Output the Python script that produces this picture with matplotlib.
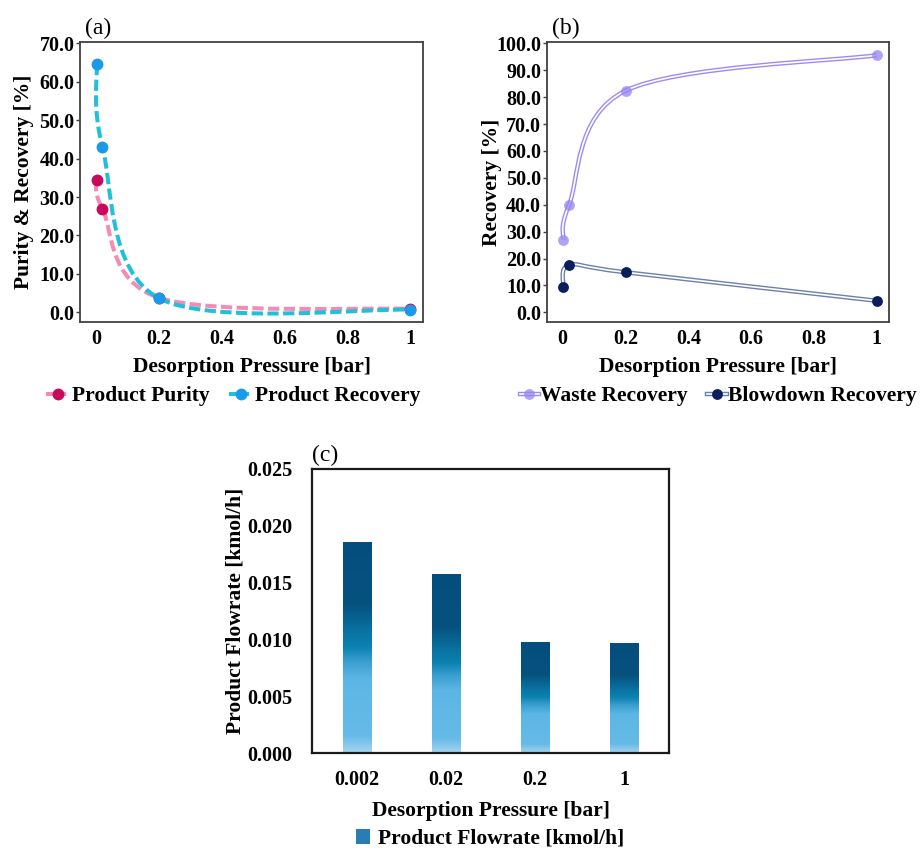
import numpy as np
import matplotlib
matplotlib.use("Agg")
import matplotlib.pyplot as plt
from matplotlib.path import Path
from matplotlib.patches import PathPatch, Rectangle
from matplotlib.lines import Line2D
from matplotlib.colors import LinearSegmentedColormap

plt.rcParams['font.family'] = ['Liberation Serif', 'DejaVu Serif']
plt.rcParams['font.weight'] = 'bold'
plt.rcParams['axes.labelweight'] = 'bold'

# desorption pressure [bar]
pressure = [0.002, 0.02, 0.2, 1]
pressure_labels = ['0.002', '0.02', '0.2', '1']

# (a) product purity / recovery [%]
purity = [34.4, 27.0, 3.8, 0.9]
recovery = [64.6, 43.1, 3.7, 0.7]

# (b) waste / blowdown recovery [%]
waste_rec = [26.9, 39.9, 82.4, 95.6]
blowdown_rec = [9.3, 17.6, 14.9, 4.3]

# (c) product flowrate [kmol/h]
flowrate = [0.01857, 0.01576, 0.0098, 0.00968]

TICK_FS = 14.5
LABEL_FS = 15.5
XLABEL = "Desorption Pressure [bar]"


def smooth_path(ax, x, y, t=1/6):
    # Bezier smoothing done in display space, then mapped back to data
    pts = ax.transData.transform(np.column_stack([x, y]))
    n = len(pts)
    verts = [pts[0]]
    codes = [Path.MOVETO]
    for i in range(n - 1):
        p0 = pts[i - 1] if i > 0 else pts[i]
        p1, p2 = pts[i], pts[i + 1]
        p3 = pts[i + 2] if i + 2 < n else pts[i + 1]
        verts += [p1 + (p2 - p0) * t, p2 - (p3 - p1) * t, p2]
        codes += [Path.CURVE4] * 3
    verts = ax.transData.inverted().transform(np.array(verts))
    return Path(verts, codes)


def style_axes(ax, spine_color='#404040', lw=1.3):
    for sp in ax.spines.values():
        sp.set_color(spine_color)
        sp.set_linewidth(lw)
    ax.tick_params(axis='both', labelsize=TICK_FS, colors='black')
    ax.tick_params(axis='y', direction='out', length=3, width=1, color='#404040', pad=1)
    ax.tick_params(axis='x', length=0, pad=5)


fig = plt.figure(figsize=(9.21, 8.51), dpi=100)

# ---------------- (a) ----------------
ax1 = fig.add_axes([0.0869, 0.6216, 0.3724, 0.329])
ax1.set_xlim(-0.051, 1.04)
ax1.set_ylim(-2.5, 70.3)
ax1.set_xticks([0, 0.2, 0.4, 0.6, 0.8, 1])
ax1.set_xticklabels(['0', '0.2', '0.4', '0.6', '0.8', '1'])
ax1.set_yticks(np.arange(0, 71, 10))
ax1.set_yticklabels([f"{v:.1f}" for v in np.arange(0, 71, 10)])
style_axes(ax1)

c_pur_line, c_pur_mk = '#f58ab5', '#c70a5c'
c_rec_line, c_rec_mk = '#1fc0d8', '#1a9ae8'
dash = (0, (2.8, 1.1))
ax1.add_patch(PathPatch(smooth_path(ax1, pressure, purity), fill=False,
                        edgecolor=c_pur_line, lw=2.9, linestyle=dash, capstyle='butt'))
ax1.plot(pressure, purity, 'o', color=c_pur_mk, ms=7.5, zorder=3)
ax1.add_patch(PathPatch(smooth_path(ax1, pressure, recovery), fill=False,
                        edgecolor=c_rec_line, lw=2.9, linestyle=dash, capstyle='butt'))
ax1.plot(pressure, recovery, 'o', color=c_rec_mk, ms=7.5, zorder=3)

ax1.set_xlabel(XLABEL, fontsize=LABEL_FS, labelpad=6)
ax1.set_ylabel("Purity & Recovery [%]", fontsize=LABEL_FS, labelpad=4)
ax1.text(0.015, 1.01, "(a)", transform=ax1.transAxes, fontsize=17,
         fontweight='normal', ha='left', va='bottom')

h_pur = Line2D([], [], color=c_pur_line, lw=2.9, ls=(0, (2, 1)), marker='o',
               mfc=c_pur_mk, mec=c_pur_mk, ms=7.5)
h_rec = Line2D([], [], color=c_rec_line, lw=2.9, ls=(0, (2, 1)), marker='o',
               mfc=c_rec_mk, mec=c_rec_mk, ms=7.5)
fig.legend([h_pur, h_rec], ["Product Purity", "Product Recovery"],
           loc='center', bbox_to_anchor=(233 / 921, 1 - 396 / 851), ncol=2,
           frameon=False, fontsize=LABEL_FS, handlelength=1.1, handletextpad=0.1,
           columnspacing=0.9)

# ---------------- (b) ----------------
ax2 = fig.add_axes([0.5936, 0.6216, 0.372, 0.329])
ax2.set_xlim(-0.051, 1.04)
ax2.set_ylim(-3.6, 100.5)
ax2.set_xticks([0, 0.2, 0.4, 0.6, 0.8, 1])
ax2.set_xticklabels(['0', '0.2', '0.4', '0.6', '0.8', '1'])
ax2.set_yticks(np.arange(0, 101, 10))
ax2.set_yticklabels([f"{v:.1f}" for v in np.arange(0, 101, 10)])
style_axes(ax2)

c_waste, c_waste_mk = '#9c8cf2', '#9683f4'
c_blow, c_blow_mk = '#6d7fab', '#0b1e5c'
for ys, c in [(waste_rec, c_waste), (blowdown_rec, c_blow)]:
    path = smooth_path(ax2, pressure, ys)
    ax2.add_patch(PathPatch(path, fill=False, edgecolor=c, lw=3.2))
    ax2.add_patch(PathPatch(path, fill=False, edgecolor='white', lw=1.2))
ax2.plot(pressure, waste_rec, 'o', color=c_waste_mk, alpha=0.75, ms=7.8, mew=0, zorder=3)
ax2.plot(pressure, blowdown_rec, 'o', color=c_blow_mk, ms=7.8, mew=0, zorder=3)

ax2.set_xlabel(XLABEL, fontsize=LABEL_FS, labelpad=6)
ax2.set_ylabel("Recovery [%]", fontsize=LABEL_FS, labelpad=-4)
ax2.text(0.015, 1.01, "(b)", transform=ax2.transAxes, fontsize=17,
         fontweight='normal', ha='left', va='bottom')

h_w = (Line2D([], [], color=c_waste, lw=3.2),
       Line2D([], [], color='white', lw=1.2),
       Line2D([], [], ls='', marker='o', color=c_waste_mk, alpha=0.75, ms=7.8, mew=0))
h_b = (Line2D([], [], color=c_blow, lw=3.2),
       Line2D([], [], color='white', lw=1.2),
       Line2D([], [], ls='', marker='o', color=c_blow_mk, ms=7.8, mew=0))
fig.legend([h_w, h_b], ["Waste Recovery", "Blowdown Recovery"],
           loc='center', bbox_to_anchor=(718 / 921, 1 - 396 / 851), ncol=2,
           frameon=False, fontsize=LABEL_FS, handlelength=0.9, handletextpad=0.05,
           columnspacing=0.9)

# ---------------- (c) ----------------
ax3 = fig.add_axes([0.3388, 0.1148, 0.3876, 0.3341])
ax3.set_xlim(-0.5, 3.5)
ax3.set_ylim(0, 0.025)
ax3.set_yticks(np.arange(0, 0.0251, 0.005))
ax3.set_yticklabels([f"{v:.3f}" for v in np.arange(0, 0.0251, 0.005)])
ax3.set_xticks(range(len(pressure_labels)))
ax3.set_xticklabels(pressure_labels)
style_axes(ax3, spine_color='#1a1a1a', lw=1.6)
ax3.tick_params(axis='y', length=0, pad=14)
ax3.tick_params(axis='x', pad=12)

bar_cmap = LinearSegmentedColormap.from_list('flow', [
    (0.0, '#a6d4f2'), (0.08, '#66bbe7'), (0.35, '#5cb6e4'), (0.43, '#3a9fd0'),
    (0.5, '#0b82b0'), (0.56, '#0a76a4'), (0.7, '#06527f'), (1.0, '#044e7e')])
grad = np.linspace(0, 1, 256).reshape(-1, 1)
bars = ax3.bar(range(len(flowrate)), flowrate, width=0.315, color='none',
               edgecolor='none')
for b in bars:
    x0, w, h = b.get_x(), b.get_width(), b.get_height()
    im = ax3.imshow(grad, cmap=bar_cmap, origin='lower', aspect='auto',
                    extent=[x0, x0 + w, 0, h], zorder=2)
    im.set_clip_path(b)
ax3.set_xlim(-0.5, 3.5)
ax3.set_ylim(0, 0.025)

ax3.set_xlabel(XLABEL, fontsize=LABEL_FS, labelpad=8)
ax3.set_ylabel("Product Flowrate [kmol/h]", fontsize=LABEL_FS, labelpad=1)
ax3.text(0.0, 1.01, "(c)", transform=ax3.transAxes, fontsize=17,
         fontweight='normal', ha='left', va='bottom')

h_f = Rectangle((0, 0), 1, 1, facecolor='#2a7db2', edgecolor='none')
fig.legend([h_f], ["Product Flowrate [kmol/h]"], loc='center',
           bbox_to_anchor=(490 / 921, 1 - 839 / 851), frameon=False, fontsize=LABEL_FS,
           handlelength=0.65, handleheight=0.65, handletextpad=0.4)

fig.savefig("out.png", dpi=100)
